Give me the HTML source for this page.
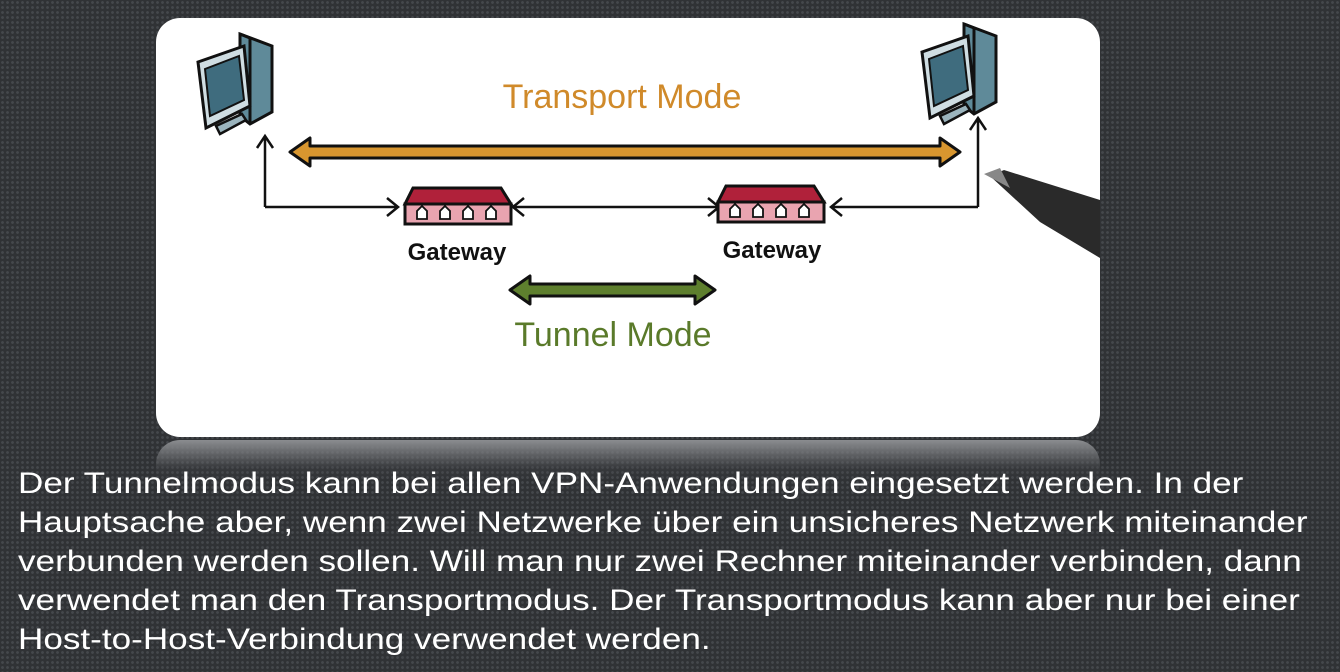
<!DOCTYPE html>
<html><head><meta charset="utf-8"><style>
html,body{margin:0;padding:0}
body{width:1340px;height:672px;overflow:hidden;position:relative;
background-color:#303235;
background-image:radial-gradient(circle,#45484c 1.2px,transparent 1.6px);
background-size:5px 5px;font-family:"Liberation Sans",sans-serif}
.card{position:absolute;left:156px;top:18px;width:944px;height:419px;background:#fff;border-radius:24px;overflow:hidden}
.refl{position:absolute;left:156px;top:440px;width:944px;height:40px;border-radius:24px 24px 0 0;
background:linear-gradient(#8a8c8f,rgba(70,72,75,0.3) 70%,rgba(48,50,53,0))}
.txt{position:absolute;left:18px;top:464px;width:1200px;color:#fff;font-size:30px;line-height:39px;white-space:nowrap;transform:scaleX(1.17);transform-origin:0 0}
</style></head><body>
<div class="refl"></div>
<div class="card">
<svg width="944" height="419" viewBox="156 18 944 419" xmlns="http://www.w3.org/2000/svg">
<defs>
<g id="pc">
<path d="M42,0 L74,12 L74,78 L52,90 L42,82 Z" fill="#5f8a99" stroke="#111" stroke-width="3"/>
<path d="M42,0 L52,4 L52,90" fill="none" stroke="#111" stroke-width="3"/>
<path d="M0,28 L46,12 L52,72 L8,94 Z" fill="#cfdde2" stroke="#111" stroke-width="3"/>
<path d="M7,35 L41,22 L46,66 L12,82 Z" fill="#3f6c7e" stroke="#111" stroke-width="2"/>
<path d="M18,92 L44,80 L48,86 L22,100 Z" fill="#9bb4bd" stroke="#111" stroke-width="2.5"/>
</g>
<g id="gw">
<path d="M8,0 L96,0 L106,16 L0,16 Z" fill="#b0213a" stroke="#111" stroke-width="3"/>
<rect x="0" y="16" width="106" height="20" fill="#e9a4b0" stroke="#111" stroke-width="3"/>
<g fill="#fff" stroke="#111" stroke-width="1.8">
<path d="M12,31 v-8 l5,-5 l5,5 v8 z"/><path d="M35,31 v-8 l5,-5 l5,5 v8 z"/><path d="M58,31 v-8 l5,-5 l5,5 v8 z"/><path d="M81,31 v-8 l5,-5 l5,5 v8 z"/>
</g>
</g>
</defs>
<use href="#pc" x="198" y="34"/>
<use href="#pc" x="922" y="24"/>
<path d="M290,152 L310,138 L310,146 L940,146 L940,138 L960,152 L940,166 L940,158 L310,158 L310,166 Z" fill="#d8962f" stroke="#111" stroke-width="3" stroke-linejoin="round"/>
<text x="622" y="108" text-anchor="middle" font-size="34" fill="#d08a2a">Transport Mode</text>
<g fill="none" stroke="#111" stroke-width="2.5">
<path d="M265,207 L265,138 M257,148 L265,136 L273,148"/>
<path d="M265,207 L397,207 M387,198 L398,207 L387,216"/>
<path d="M514,207 L718,207 M524,198 L513,207 L524,216 M708,198 L719,207 L708,216"/>
<path d="M978,207 L978,120 M970,130 L978,118 L986,130"/>
<path d="M978,207 L832,207 M842,198 L831,207 L842,216"/>
</g>
<use href="#gw" x="405" y="188"/>
<use href="#gw" x="718" y="186"/>
<text x="457" y="260" text-anchor="middle" font-size="24" font-weight="bold" fill="#111">Gateway</text>
<text x="772" y="258" text-anchor="middle" font-size="24" font-weight="bold" fill="#111">Gateway</text>
<path d="M510,290 L530,276 L530,284 L695,284 L695,276 L715,290 L695,304 L695,296 L530,296 L530,304 Z" fill="#5e7f2e" stroke="#111" stroke-width="3" stroke-linejoin="round"/>
<text x="613" y="346" text-anchor="middle" font-size="34" fill="#5a7a2a">Tunnel Mode</text>
<path d="M990,176 L1004,170 L1100,200 L1100,258 L1040,222 Z" fill="#2a2a2a"/>
<path d="M984,174 L1000,168 L1010,188 Z" fill="#888"/>
</svg>
</div>
<div class="txt">Der Tunnelmodus kann bei allen VPN-Anwendungen eingesetzt werden. In der<br>Hauptsache aber, wenn zwei Netzwerke über ein unsicheres Netzwerk miteinander<br>verbunden werden sollen. Will man nur zwei Rechner miteinander verbinden, dann<br>verwendet man den Transportmodus. Der Transportmodus kann aber nur bei einer<br>Host-to-Host-Verbindung verwendet werden.</div>
</body></html>
